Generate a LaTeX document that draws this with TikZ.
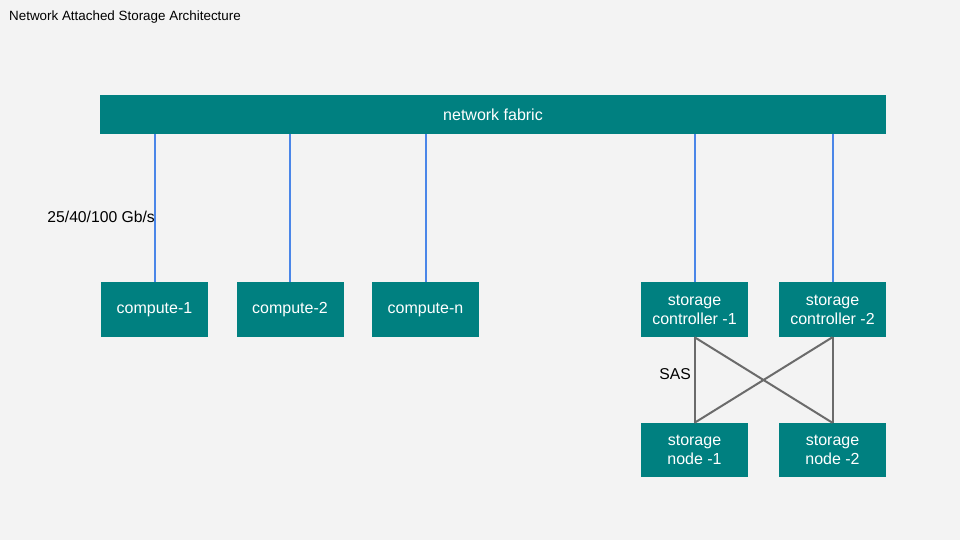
\documentclass[tikz,border=0pt]{standalone}
\usepackage{fontspec}
\setmainfont{Liberation Sans}
\definecolor{bg}{HTML}{F3F3F3}
\definecolor{teal}{HTML}{008080}
\definecolor{link}{HTML}{4A86E8}
\definecolor{sas}{HTML}{6B6B6B}
\begin{document}
\begin{tikzpicture}[x=1pt,y=-1pt,
  box/.style={fill=teal,draw=none,text=white,minimum width=107pt,minimum height=55pt,inner sep=0pt,align=center,font=\fontsize{16}{19}\selectfont},
  netlink/.style={draw=link,line width=2pt},
  saslink/.style={draw=sas,line width=2pt},
  lbl/.style={text=black,inner sep=0pt,font=\fontsize{15.7}{18}\selectfont}]
\fill[bg] (0,0) rectangle (960,540);
\useasboundingbox (0,0) rectangle (960,540);
\node[anchor=west,inner sep=0pt,font=\fontsize{13.4}{16}\selectfont] (title) at (9,17) {Network Attached Storage Architecture};
\node[box,minimum width=786pt,minimum height=39pt] (fabric) at (493,114.5) {network fabric};
\node[box] (c1) at (154.5,309.5) {compute-1};
\node[box] (c2) at (290,309.5) {compute-2};
\node[box] (cn) at (425.5,309.5) {compute-n};
\node[box] (sc1) at (694.5,309.5) {storage\\controller -1};
\node[box] (sc2) at (832.5,309.5) {storage\\controller -2};
\node[box,minimum height=54pt] (sn1) at (694.5,450) {storage\\node -1};
\node[box,minimum height=54pt] (sn2) at (832.5,450) {storage\\node -2};
\foreach \n in {c1,c2,cn,sc1,sc2}{
  \draw[netlink] (\n.north) -- (\n.north |- fabric.south);
}
\draw[saslink] (sc1.south) -- (sn1.north);
\draw[saslink] (sc1.south) -- (sn2.north);
\draw[saslink] (sc2.south) -- (sn1.north);
\draw[saslink] (sc2.south) -- (sn2.north);
\node[lbl,anchor=east] (speed) at (155,217) {25/40/100 Gb/s};
\node[lbl,anchor=east] (saslbl) at (691,374) {SAS};
\end{tikzpicture}
\end{document}
